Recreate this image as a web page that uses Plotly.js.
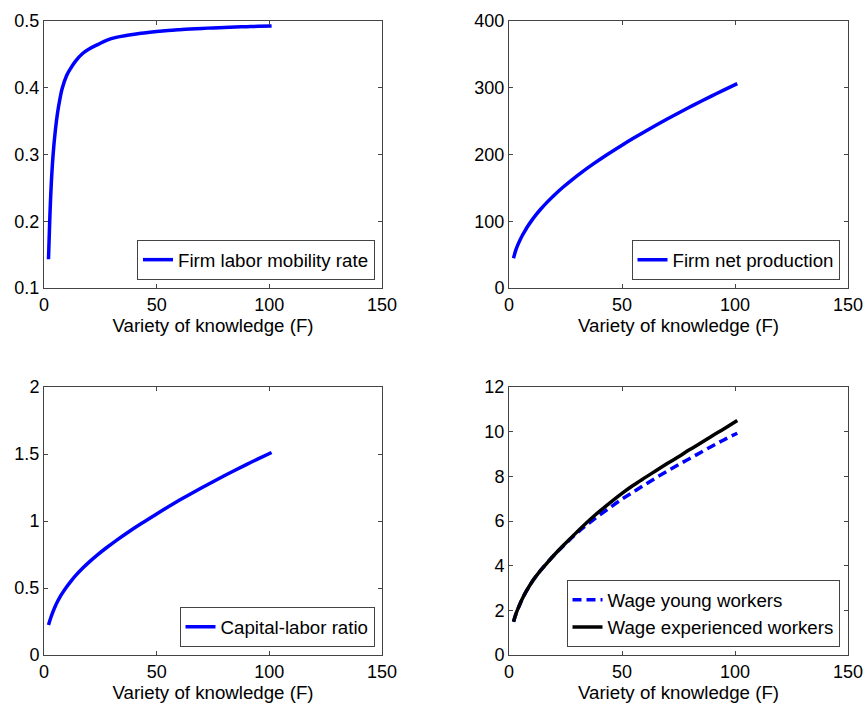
<!DOCTYPE html>
<html><head><meta charset="utf-8">
<script src="https://cdn.plot.ly/plotly-3.0.1.min.js"></script>
<style>html,body{margin:0;padding:0;background:#fff}#chart{width:865px;height:710px}</style>
</head><body><div id="chart"></div>
<script>
// Variety of knowledge (F)
const knowledgeF = [2, 3, 4, 5, 6, 7, 8, 10, 12, 14, 17, 20, 24, 28, 32, 37, 43, 50, 55, 60, 65, 70, 75, 80, 85, 90, 95, 101];
// Panel 1: firm labor mobility rate
const mobilityRate = [0.143, 0.24, 0.298, 0.335, 0.362, 0.382, 0.398, 0.418, 0.430, 0.440, 0.451, 0.458, 0.465, 0.4715, 0.4755, 0.4785, 0.4815, 0.4842, 0.4858, 0.487, 0.488, 0.4889, 0.4897, 0.4904, 0.491, 0.4915, 0.492, 0.4925];
// Panel 2: firm net production
const netProduction = [44.5, 56.75, 65.35, 72.75, 79.35, 85.35, 90.95, 100.95, 109.85, 117.95, 129.05, 139.1, 151.3, 162.5, 172.9, 185.15, 198.95, 214, 224.25, 234.15, 243.75, 253.1, 262.2, 271.05, 279.7, 288.15, 296.4, 306.1];
// Panel 3: capital-labor ratio
const capitalLabor = [0.224, 0.278, 0.324, 0.364, 0.399, 0.430, 0.458, 0.508, 0.552, 0.592, 0.645, 0.693, 0.751, 0.804, 0.854, 0.9125, 0.979, 1.053, 1.1045, 1.154, 1.202, 1.2485, 1.2935, 1.3375, 1.3805, 1.4225, 1.4635, 1.5115];
// Panel 4: wages
const wageYoung = [1.49, 1.82, 2.08, 2.32, 2.54, 2.74, 2.92, 3.25, 3.53, 3.79, 4.14, 4.48, 4.88, 5.27, 5.63, 6.03, 6.48, 6.98, 7.3, 7.62, 7.93, 8.23, 8.52, 8.8, 9.08, 9.36, 9.63, 9.93];
const wageExperienced = [1.49, 1.82, 2.08, 2.32, 2.54, 2.74, 2.92, 3.25, 3.53, 3.79, 4.14, 4.48, 4.9, 5.3, 5.7, 6.17, 6.68, 7.24, 7.6, 7.93, 8.25, 8.57, 8.88, 9.2, 9.5, 9.82, 10.12, 10.5];

const xTicks = [0, 50, 100, 150];
const seriesNames = ["Firm labor mobility rate", "Firm net production", "Capital-labor ratio", "Wage young workers", "Wage experienced workers"];
const xTitle = "Variety of knowledge (F)";

const FONT = "Arial, 'Liberation Sans', sans-serif";
const BLUE = "#0000ff";
const AX = "#444444";

const traces = [
  {x: knowledgeF, y: mobilityRate, name: seriesNames[0], xaxis: "x", yaxis: "y", legend: "legend",
   mode: "lines", line: {color: BLUE, width: 3.5, shape: "spline"}},
  {x: knowledgeF, y: netProduction, name: seriesNames[1], xaxis: "x2", yaxis: "y2", legend: "legend2",
   mode: "lines", line: {color: BLUE, width: 3.5, shape: "spline"}},
  {x: knowledgeF, y: capitalLabor, name: seriesNames[2], xaxis: "x3", yaxis: "y3", legend: "legend3",
   mode: "lines", line: {color: BLUE, width: 3.5, shape: "spline"}},
  {x: knowledgeF, y: wageYoung, name: seriesNames[3], xaxis: "x4", yaxis: "y4", legend: "legend4",
   mode: "lines", line: {color: BLUE, width: 3.5, dash: "9px,5px", shape: "spline"}},
  {x: knowledgeF, y: wageExperienced, name: seriesNames[4], xaxis: "x4", yaxis: "y4", legend: "legend4",
   mode: "lines", line: {color: "#000000", width: 3.5, shape: "spline"}}
];

function xax(domain, anchor) {
  return {domain: domain, anchor: anchor, range: [0, 150], tickvals: xTicks, ticks: "inside", ticklen: 4,
    showline: true, mirror: "ticks", linecolor: AX, linewidth: 1, tickcolor: AX,
    showgrid: false, zeroline: false, automargin: false,
    tickfont: {size: 18, color: "#000", family: FONT},
    title: {text: xTitle, font: {size: 18.7, color: "#000", family: FONT}, standoff: 5}};
}
function yax(domain, anchor, range, dtick) {
  return {domain: domain, anchor: anchor, range: range, dtick: dtick, tick0: range[0], ticks: "inside", ticklen: 4,
    showline: true, mirror: "ticks", linecolor: AX, linewidth: 1, tickcolor: AX,
    showgrid: false, zeroline: false, automargin: false,
    tickfont: {size: 18, color: "#000", family: FONT}};
}
function leg(x, y) {
  return {x: x, y: y, xanchor: "right", yanchor: "bottom", bgcolor: "#fff", bordercolor: AX, borderwidth: 1,
    font: {size: 18.7, color: "#000", family: FONT}, tracegroupgap: 0, itemwidth: 30};
}

const dxL = [44/865, 382/865], dxR = [509/865, 848/865];
const dyT = [1 - 288/710, 1 - 21/710], dyB = [1 - 655/710, 1 - 387/710];

const layout = {
  width: 865, height: 710,
  margin: {l: 0, r: 0, t: 0, b: 0},
  paper_bgcolor: "#fff", plot_bgcolor: "#fff",
  font: {family: FONT, size: 18, color: "#000"},
  xaxis: xax(dxL, "y"), yaxis: yax(dyT, "x", [0.1, 0.5], 0.1),
  xaxis2: xax(dxR, "y2"), yaxis2: yax(dyT, "x2", [0, 400], 100),
  xaxis3: xax(dxL, "y3"), yaxis3: yax(dyB, "x3", [0, 2], 0.5),
  xaxis4: xax(dxR, "y4"), yaxis4: yax(dyB, "x4", [0, 12], 2),
  legend: leg(375/865, 1 - 280/710),
  legend2: leg(839.5/865, 1 - 280/710),
  legend3: leg(374.5/865, 1 - 647/710),
  legend4: leg(839.5/865, 1 - 647/710),
  showlegend: true
};

Plotly.newPlot("chart", traces, layout, {staticPlot: true, displayModeBar: false});
</script>
</body></html>
